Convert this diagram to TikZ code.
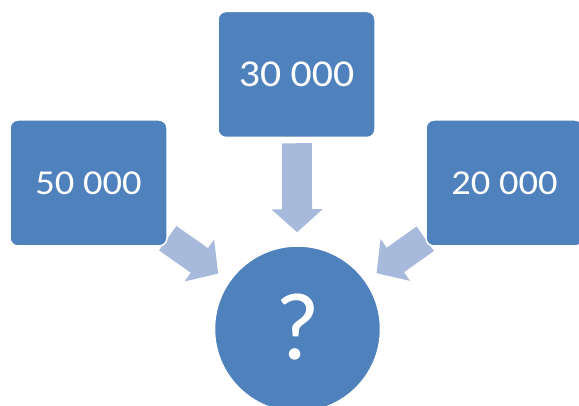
\documentclass[tikz,border=0pt]{standalone}
\usepackage{fontspec}
\setmainfont{Carlito}
\newfontfamily\numfont[FakeStretch=1.1]{Carlito}
\usetikzlibrary{arrows.meta,backgrounds}
\definecolor{boxblue}{HTML}{4F81BD}
\definecolor{arrowblue}{HTML}{A7BADB}

\begin{document}
\begin{tikzpicture}[x=1pt,y=-1pt,
  sum/.style={fill=boxblue,draw=white,line width=1.5pt,rounded corners=8pt,minimum width=157pt,minimum height=126pt,text=white,font=\numfont\fontsize{35}{40}\selectfont},
  total/.style={circle,fill=boxblue,draw=white,line width=1.5pt,minimum size=166pt,text=white,font=\fontsize{96}{100}\selectfont},
  flow/.style={arrowblue,line width=30pt,-{Triangle[width=50pt,length=23pt]},shorten >=13pt}]
\useasboundingbox (0,0) rectangle (579,406);
\node[sum] (a) at (88.5,183) {50 000};
\node[sum,font=\numfont\fontsize{38}{42}\selectfont] (b) at (296.5,74.5) {30 000};
\node[sum] (c) at (504.5,183) {20 000};
\node[total] (q) at (297.5,329) {\raisebox{5pt}{?}};
\begin{scope}[on background layer]
\draw[flow] (a) -- (q);
\draw[flow,shorten <=5pt] (b) -- (q);
\draw[flow] (c) -- (q);
\end{scope}
\end{tikzpicture}
\end{document}
